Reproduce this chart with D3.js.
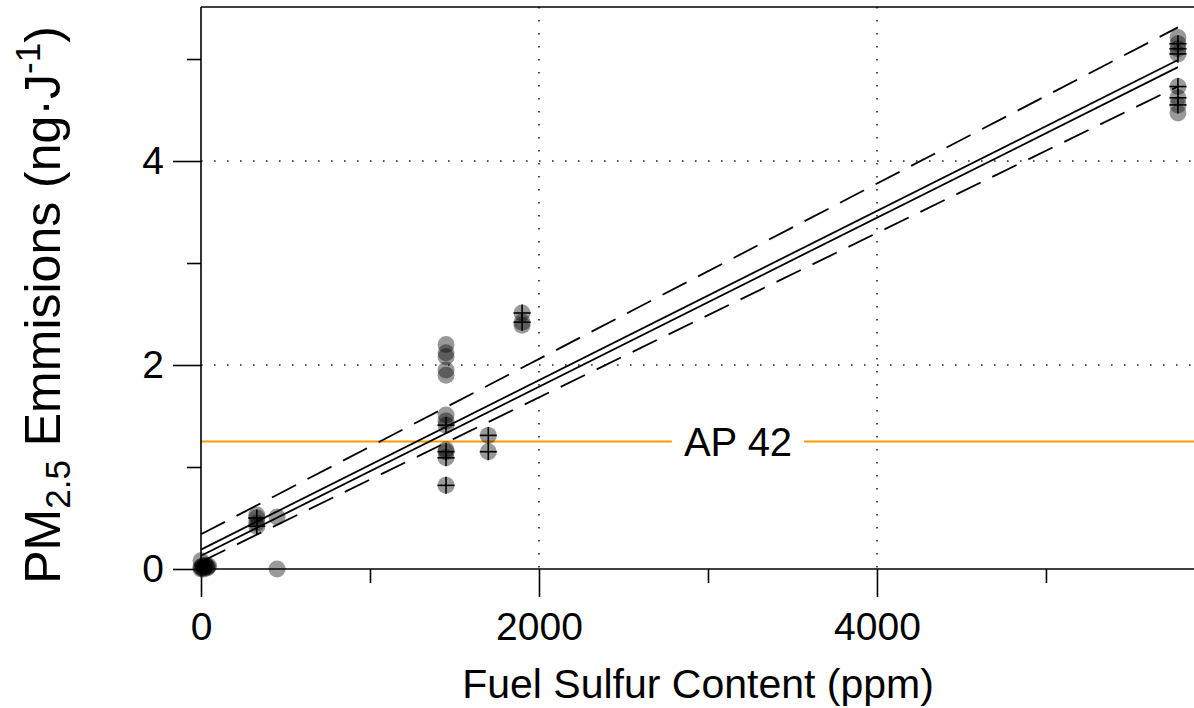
<!DOCTYPE html>
<html>
<head>
<meta charset="utf-8">
<script src="https://cdn.jsdelivr.net/npm/d3@7"></script>
<style>
  html, body { margin: 0; padding: 0; background: #fff; }
  svg { display: block; font-family: "Liberation Sans", Arial, Helvetica, sans-serif; }
</style>
</head>
<body>
<svg id="chart" width="1194" height="708"></svg>
<script>
// ---------- data ----------
// fuel sulfur (ppm), PM2.5 (ng/J), whether a "+" marker is drawn on the point
const sulfur = [
  0, 0, 5, 10, 15, 20, 25, 30, 35, 40, 45, 0,
  330, 330, 330, 330,
  450, 450,
  1450, 1450, 1450, 1450, 1450, 1450, 1450, 1450, 1450, 1450, 1450, 1450,
  1700, 1700,
  1900, 1900, 1900,
  5781, 5781, 5781, 5781, 5781, 5781, 5781, 5781
];
const pm = [
  0.00, 0.02, 0.01, 0.03, 0.00, 0.02, 0.04, 0.03, 0.01, 0.02, 0.03, 0.08,
  0.53, 0.50, 0.45, 0.42,
  0.51, 0.00,
  2.20, 2.12, 2.08, 1.95, 1.90, 1.51, 1.45, 1.41, 1.17, 1.15, 1.09, 0.82,
  1.31, 1.15,
  2.51, 2.42, 2.39,
  5.21, 5.15, 5.10, 5.05, 4.73, 4.62, 4.55, 4.47
];
const marked = [
  0, 0, 0, 0, 0, 0, 0, 0, 0, 0, 0, 0,
  0, 1, 0, 1,
  0, 0,
  0, 0, 0, 0, 0, 0, 0, 1, 0, 1, 1, 1,
  1, 1,
  1, 1, 0,
  0, 1, 1, 1, 1, 1, 1, 0
];

// regression fit (solid) and bounds (dashed): values at the ends of the fitted range
const fitX = [0, 5781];
const fitUpperSolid = [0.19, 4.99];
const fitLowerSolid = [0.13, 4.92];
const boundUpper = [0.34, 5.31];
const boundLower = [0.07, 4.73];

const ap42Value = 1.25;
const ap42Label = "AP 42";

const xMajorTicks = [0, 2000, 4000];
const xMinorTicks = [1000, 3000, 5000];
const yMajorTicks = [0, 2, 4];
const yMinorTicks = [1, 3, 5];
const xGrid = [2000, 4000];
const yGrid = [2, 4];

const xTitle = "Fuel Sulfur Content (ppm)";

// ---------- layout ----------
const svg = d3.select("#chart");
const mLeft = 201, mRight = 1194, mTop = 7, mBottom = 569;
const x = d3.scaleLinear().domain([0, 5876]).range([mLeft, mRight]);
const y = d3.scaleLinear().domain([0, 5.51]).range([mBottom, mTop]);
const FS = 39;

// grid (dotted)
svg.append("g").selectAll("line").data(xGrid).join("line")
  .attr("x1", d => x(d)).attr("x2", d => x(d))
  .attr("y1", mTop).attr("y2", mBottom)
  .attr("stroke", "#222").attr("stroke-width", 1.6)
  .attr("stroke-dasharray", "1.6,11.4");
svg.append("g").selectAll("line").data(yGrid).join("line")
  .attr("x1", mLeft).attr("x2", mRight)
  .attr("y1", d => y(d)).attr("y2", d => y(d))
  .attr("stroke", "#222").attr("stroke-width", 1.6)
  .attr("stroke-dasharray", "1.6,11.4");

// AP 42 line
svg.append("line")
  .attr("x1", mLeft).attr("x2", mRight)
  .attr("y1", y(ap42Value)).attr("y2", y(ap42Value))
  .attr("stroke", "#ff9900").attr("stroke-width", 2);
const apBg = svg.append("rect").attr("fill", "#fff");
const apText = svg.append("text")
  .attr("x", 738).attr("y", y(ap42Value))
  .attr("dy", "0.36em")
  .attr("text-anchor", "middle")
  .attr("font-size", 40)
  .attr("fill", "#000")
  .text(ap42Label);
const bb = apText.node().getBBox();
apBg.attr("x", bb.x - 12).attr("width", bb.width + 24)
  .attr("y", y(ap42Value) - 4).attr("height", 8);

// data points
const pts = sulfur.map((s, i) => ({ s, v: pm[i], m: marked[i] }));
svg.append("g").selectAll("circle").data(pts).join("circle")
  .attr("cx", d => x(d.s)).attr("cy", d => y(d.v))
  .attr("r", 8.5)
  .attr("fill", "#000").attr("fill-opacity", 0.4);
const crosses = svg.append("g").attr("stroke", "#000").attr("stroke-width", 1.6);
pts.filter(d => d.m).forEach(d => {
  const cx = x(d.s), cy = y(d.v);
  crosses.append("line").attr("x1", cx - 8.5).attr("x2", cx + 8.5).attr("y1", cy).attr("y2", cy);
  crosses.append("line").attr("x1", cx).attr("x2", cx).attr("y1", cy - 8.5).attr("y2", cy + 8.5);
});

// fit lines
const lineGen = d3.line().x(d => x(d[0])).y(d => y(d[1]));
function drawFit(vals, dashed) {
  svg.append("path")
    .attr("d", lineGen(fitX.map((fx, i) => [fx, vals[i]])))
    .attr("fill", "none").attr("stroke", "#000").attr("stroke-width", 1.8)
    .attr("stroke-dasharray", dashed ? "27,13" : null);
}
drawFit(fitUpperSolid, false);
drawFit(fitLowerSolid, false);
drawFit(boundUpper, true);
drawFit(boundLower, true);

// axes
const axStyle = g => {
  g.select(".domain").remove();
  g.selectAll(".tick line").attr("stroke", "#000").attr("stroke-width", 1.6);
  g.selectAll(".tick text").attr("font-size", FS).attr("fill", "#000")
    .attr("font-family", "Liberation Sans, Arial, sans-serif");
};
svg.append("g").attr("transform", `translate(0,${mBottom})`)
  .call(d3.axisBottom(x).tickValues(xMajorTicks).tickSize(28).tickPadding(15).tickFormat(d3.format("d")))
  .call(axStyle);
svg.append("g").attr("transform", `translate(0,${mBottom})`)
  .call(d3.axisBottom(x).tickValues(xMinorTicks).tickSize(14).tickFormat(""))
  .call(axStyle);
svg.append("g").attr("transform", `translate(${mLeft},0)`)
  .call(d3.axisLeft(y).tickValues(yMajorTicks).tickSize(28).tickPadding(9).tickFormat(d3.format("d")))
  .call(axStyle);
svg.append("g").attr("transform", `translate(${mLeft},0)`)
  .call(d3.axisLeft(y).tickValues(yMinorTicks).tickSize(14).tickFormat(""))
  .call(axStyle);

// frame: left, bottom, top
svg.append("line").attr("x1", mLeft).attr("x2", mLeft).attr("y1", mTop).attr("y2", mBottom)
  .attr("stroke", "#000").attr("stroke-width", 1.6);
svg.append("line").attr("x1", mLeft).attr("x2", mRight).attr("y1", mBottom).attr("y2", mBottom)
  .attr("stroke", "#000").attr("stroke-width", 1.6);
svg.append("line").attr("x1", mLeft).attr("x2", mRight).attr("y1", mTop).attr("y2", mTop)
  .attr("stroke", "#000").attr("stroke-width", 1.6);

// titles
svg.append("text")
  .attr("x", 698).attr("y", 698)
  .attr("text-anchor", "middle").attr("font-size", 41).attr("fill", "#000")
  .text(xTitle);

const YF = 50;
const yt = svg.append("text")
  .attr("transform", "translate(60,305) rotate(-90)")
  .attr("text-anchor", "middle").attr("font-size", YF).attr("fill", "#000");
yt.append("tspan").text("PM");
yt.append("tspan").attr("font-size", YF * 0.7).attr("dy", 10).text("2.5");
yt.append("tspan").attr("dy", -10).text(" Emmisions (ng·J");
yt.append("tspan").attr("font-size", YF * 0.7).attr("dy", -20).text("-1");
yt.append("tspan").attr("dy", 20).text(")");
</script>
</body>
</html>
